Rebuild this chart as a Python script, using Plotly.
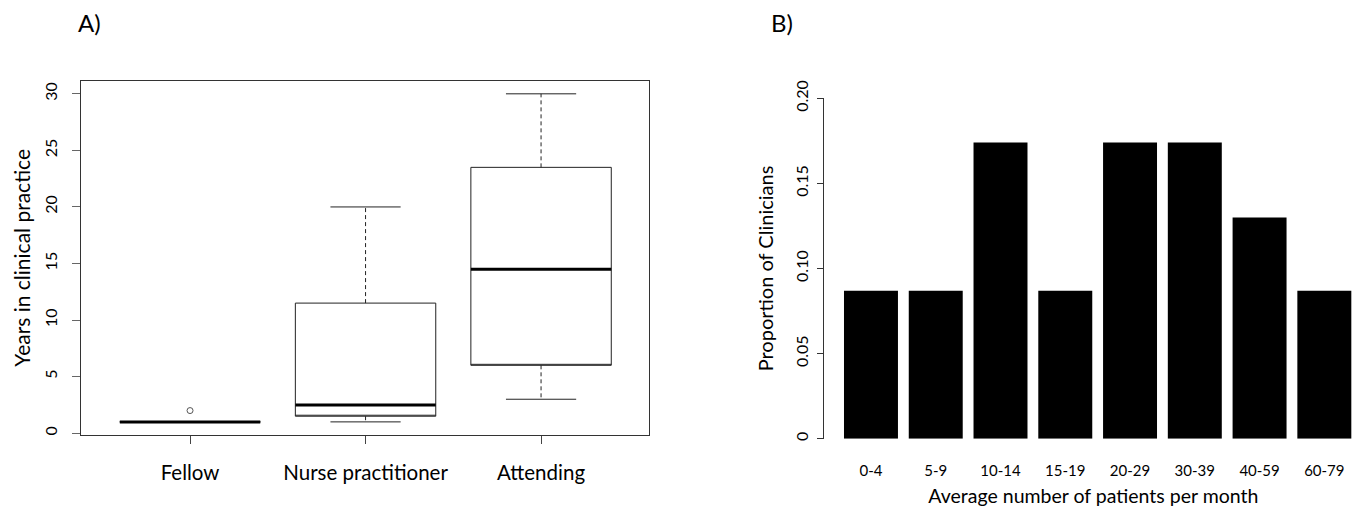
import plotly.graph_objects as go

# ---------------- Data ----------------
# Panel A: boxplot summary statistics (years in clinical practice)
roles = ["Fellow", "Nurse practitioner", "Attending"]
q1 = [1, 1.5, 6]
median = [1, 2.5, 14.5]
q3 = [1, 11.5, 23.5]
whisker_low = [1, 1, 3]
whisker_high = [1, 20, 30]
outlier_role_index = [0]
outlier_value = [2]
y_ticks_a = [0, 5, 10, 15, 20, 25, 30]

# Panel B: proportion of clinicians by average patients per month
bins = ["0-4", "5-9", "10-14", "15-19", "20-29", "30-39", "40-59", "60-79"]
proportions = [0.087, 0.087, 0.174, 0.087, 0.174, 0.174, 0.130, 0.087]
y_ticks_b = [0, 0.05, 0.10, 0.15, 0.20]
y_ticktext_b = ["0", "0.05", "0.10", "0.15", "0.20"]

FONT = "Lato"
INK = "#222222"
BOX_W = 0.8
CAP_W = 0.4

pos = list(range(len(roles)))

fig = go.Figure()

# Boxes (body only; whiskers drawn dashed below)
fig.add_trace(go.Box(
    x=pos, q1=q1, median=q1, q3=q3, lowerfence=q1, upperfence=q3,
    width=BOX_W, fillcolor="white", line=dict(color=INK, width=1),
    whiskerwidth=0, showlegend=False, hoverinfo="skip",
    xaxis="x", yaxis="y",
))

# Dashed whiskers
wx, wy = [], []
for i in pos:
    if whisker_high[i] > q3[i]:
        wx += [i, i, None]
        wy += [q3[i], whisker_high[i], None]
    if whisker_low[i] < q1[i]:
        wx += [i, i, None]
        wy += [q1[i], whisker_low[i], None]
fig.add_trace(go.Scatter(x=wx, y=wy, mode="lines", showlegend=False, hoverinfo="skip",
                         line=dict(color=INK, width=1, dash="4px,3px"), xaxis="x", yaxis="y"))

# Whisker caps
cx, cy = [], []
for i in pos:
    for v in (whisker_low[i], whisker_high[i]):
        cx += [i - CAP_W / 2, i + CAP_W / 2, None]
        cy += [v, v, None]
fig.add_trace(go.Scatter(x=cx, y=cy, mode="lines", showlegend=False, hoverinfo="skip",
                         line=dict(color=INK, width=1), xaxis="x", yaxis="y"))

# Thick medians
mx, my = [], []
for i in pos:
    mx += [i - BOX_W / 2, i + BOX_W / 2, None]
    my += [median[i], median[i], None]
fig.add_trace(go.Scatter(x=mx, y=my, mode="lines", showlegend=False, hoverinfo="skip",
                         line=dict(color="black", width=3), xaxis="x", yaxis="y"))

# Outliers
fig.add_trace(go.Scatter(x=outlier_role_index, y=outlier_value, mode="markers", showlegend=False,
                         marker=dict(symbol="circle-open", size=6, color="#555555", line=dict(width=1)),
                         xaxis="x", yaxis="y"))

# Panel B bars
fig.add_trace(go.Bar(x=bins, y=proportions, marker=dict(color="black", line=dict(width=0)),
                     showlegend=False, xaxis="x2", yaxis="y2"))

W, H = 1363, 512

fig.update_layout(
    width=W, height=H, margin=dict(l=0, r=0, t=0, b=0, autoexpand=False),
    paper_bgcolor="white", plot_bgcolor="white",
    font=dict(family=FONT, color="black"),
    bargap=0.1667,
    xaxis=dict(
        domain=[80.7 / W, 649 / W], range=[-0.623, 2.615],
        tickmode="array", tickvals=pos, ticktext=roles,
        ticks="outside", ticklen=8, tickcolor="#444", tickwidth=1,
        showline=True, mirror=True, linecolor="#333", linewidth=1,
        showgrid=False, zeroline=False, tickfont=dict(size=20.5),
        ticklabelstandoff=11, anchor="y", automargin=False,
    ),
    yaxis=dict(
        domain=[(H - 435) / H, (H - 80.7) / H], range=[-0.16, 31.16],
        tickmode="array", tickvals=y_ticks_a, tickangle=-90,
        ticks="outside", ticklen=8, tickcolor="#666", tickwidth=1,
        showline=True, mirror=True, linecolor="#333", linewidth=1,
        showgrid=False, zeroline=False, tickfont=dict(size=16),
        ticklabelstandoff=8, anchor="x", automargin=False,
        title=dict(text="Years in clinical practice", font=dict(size=21), standoff=4),
    ),
    xaxis2=dict(
        domain=[823.7 / W, 1.0], range=[-0.730, 7.597], type="category",
        showline=False, ticks="", showgrid=False, zeroline=False,
        tickfont=dict(size=15), ticklabelstandoff=21, anchor="y2", automargin=False,
        title=dict(text="Average number of patients per month", font=dict(size=19.5), standoff=11),
    ),
    yaxis2=dict(
        domain=[(H - 438.7) / H, (H - 98.3) / H], range=[0, 0.2],
        tickmode="array", tickvals=y_ticks_b, ticktext=y_ticktext_b, tickangle=-90,
        ticks="outside", ticklen=6, tickcolor="#333", tickwidth=1,
        showline=True, linecolor="#333", linewidth=1,
        showgrid=False, zeroline=False, tickfont=dict(size=16),
        ticklabelstandoff=2, anchor="x2", automargin=False,
        title=dict(text="Proportion of Clinicians", font=dict(size=20), standoff=13),
    ),
    annotations=[
        dict(text="A)", x=76 / W, y=(H - 22) / H, xref="paper", yref="paper",
             xanchor="left", yanchor="middle", showarrow=False, font=dict(size=24)),
        dict(text="B)", x=769 / W, y=(H - 22) / H, xref="paper", yref="paper",
             xanchor="left", yanchor="middle", showarrow=False, font=dict(size=24)),
    ],
)

fig.write_html("out.html", config={"displayModeBar": False},
               post_script="document.body.style.margin='0';document.body.style.overflow='hidden';")
